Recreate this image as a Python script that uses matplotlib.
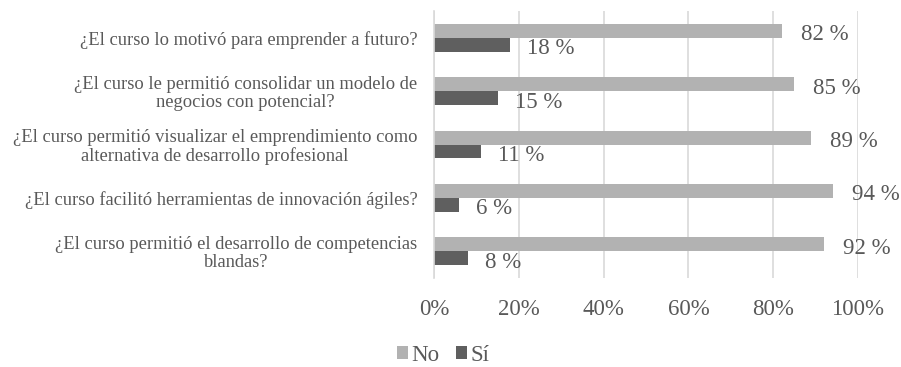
import matplotlib
matplotlib.use("Agg")
import matplotlib.pyplot as plt
import numpy as np

plt.rcParams['font.family'] = ['Liberation Serif', 'DejaVu Serif']

categories = [
    "¿El curso lo motivó para emprender a futuro?",
    "¿El curso le permitió consolidar un modelo de\nnegocios con potencial?",
    "¿El curso permitió visualizar el emprendimiento como\nalternativa de desarrollo profesional",
    "¿El curso facilitó herramientas de innovación ágiles?",
    "¿El curso permitió el desarrollo de competencias\nblandas?",
]
no_values = [82, 85, 89, 94, 92]
si_values = [18, 15, 11, 6, 8]
series_names = ["No", "Sí"]
x_ticks = [0, 20, 40, 60, 80, 100]

text_color = "#595959"
no_color = "#b2b2b2"
si_color = "#5f5f5f"
grid_color = "#d9d9d9"

fig = plt.figure(figsize=(9.01, 3.67), dpi=100)
ax = fig.add_axes([0.4817, 0.2425, 0.4706, 0.7275])

y = np.arange(len(categories))
h = 0.262
bars_no = ax.barh(y - h / 2, no_values, height=h, color=no_color, label=series_names[0], zorder=3)
bars_si = ax.barh(y + h / 2, si_values, height=h, color=si_color, label=series_names[1], zorder=3)

ax.set_xlim(0, 100)
ax.set_ylim(len(categories) - 0.5, -0.5)
ax.set_xticks(x_ticks)
ax.set_xticklabels([f"{t}%" for t in x_ticks], fontsize=16.5, color=text_color)
ax.set_yticks(y)
ax.set_yticklabels(categories, fontsize=13.3, color=text_color, multialignment='center',
                   linespacing=1.05)
ax.tick_params(axis='both', length=0)
ax.tick_params(axis='y', pad=12)
ax.tick_params(axis='x', pad=15)

ax.grid(axis='x', color=grid_color, linewidth=1.2, zorder=0)
for side in ['top', 'right', 'bottom']:
    ax.spines[side].set_visible(False)
ax.spines['left'].set_color(grid_color)
ax.spines['left'].set_linewidth(1.2)
ax.spines['left'].set_zorder(4)

for bar, v in zip(bars_no, no_values):
    ax.annotate(f"{v} %", (v, bar.get_y() + bar.get_height() / 2),
                xytext=(19, -4), textcoords='offset pixels',
                va='center', ha='left', fontsize=16.5, color=text_color)
for bar, v in zip(bars_si, si_values):
    ax.annotate(f"{v} %", (v, bar.get_y() + bar.get_height() / 2),
                xytext=(17, -4), textcoords='offset pixels',
                va='center', ha='left', fontsize=16.5, color=text_color)

fig.legend(handles=[bars_no, bars_si], labels=series_names, loc='center',
           bbox_to_anchor=(0.492, 0.032), ncol=2, frameon=False, borderpad=0,
           fontsize=16.5, labelcolor=text_color, handlelength=0.5, handleheight=0.5,
           handletextpad=0.15, columnspacing=0.7)

fig.savefig("out.png", dpi=100)
